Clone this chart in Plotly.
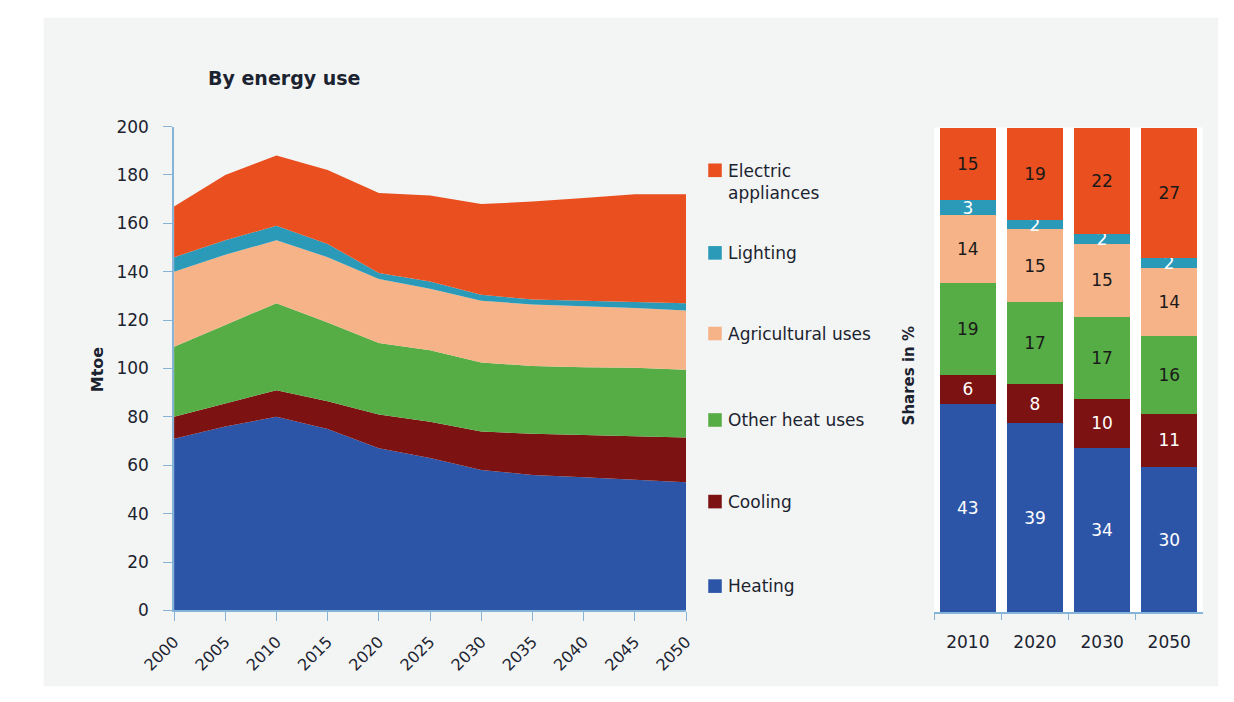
import plotly.graph_objects as go

# ---------------- data ----------------
years = [2000, 2005, 2010, 2015, 2020, 2025, 2030, 2035, 2040, 2045, 2050]
heating = [71, 76, 80, 75, 67, 63, 58, 56, 55, 54, 53]
cooling = [9, 9.5, 11, 11.5, 14, 15, 16, 17, 17.5, 18, 18.5]
other_heat = [29, 32.5, 36, 32.5, 29.5, 29.5, 28.5, 28, 28, 28.3, 28]
agricultural = [31, 29, 26, 27, 26.5, 25.5, 25.5, 25.5, 25.2, 24.7, 24.5]
lighting = [6, 6, 6, 5.5, 2.5, 3, 2.5, 2, 2.3, 2.5, 3]
electric = [21, 27, 29, 30.5, 33, 35.5, 37.5, 40.5, 42.5, 44.5, 45]

share_years = ["2010", "2020", "2030", "2050"]
share_heating = [43, 39, 34, 30]
share_cooling = [6, 8, 10, 11]
share_other_heat = [19, 17, 17, 16]
share_agricultural = [14, 15, 15, 14]
share_lighting = [3, 2, 2, 2]
share_electric = [15, 19, 22, 27]

names = ["Heating", "Cooling", "Other heat uses", "Agricultural uses", "Lighting", "Electric appliances"]
legend_labels = ["Heating", "Cooling", "Other heat uses", "Agricultural uses", "Lighting", "Electric<br>appliances"]
colors = ["#2c55a8", "#7c1212", "#56ad45", "#f6b388", "#2b9ab8", "#e94f1f"]
text_colors = ["white", "white", "#1a1a1a", "#1a1a1a", "white", "#1a1a1a"]

W, H = 1234, 702
FONT = "DejaVu Sans"
TXT = "#1c2330"
AXC = "#86b4d8"


def px(x):
    return x / W


def py(y):
    return 1 - y / H


fig = go.Figure()

area_series = [heating, cooling, other_heat, agricultural, lighting, electric]
for name, vals, col in zip(names, area_series, colors):
    fig.add_trace(go.Scatter(
        x=years, y=vals, name=name, stackgroup="one", mode="none",
        fillcolor=col, line=dict(width=0), showlegend=False,
        xaxis="x", yaxis="y"))

share_series = [share_heating, share_cooling, share_other_heat, share_agricultural, share_lighting, share_electric]
for name, vals, col, tc in zip(names, share_series, colors, text_colors):
    fig.add_trace(go.Bar(
        x=share_years, y=vals, name=name, marker=dict(color=col, line=dict(width=0)),
        text=[str(v) for v in vals], textposition="inside", insidetextanchor="middle",
        textangle=0, textfont=dict(family=FONT, size=17, color=tc), constraintext="none",
        showlegend=False, xaxis="x2", yaxis="y2"))

shapes = [
    dict(type="rect", xref="paper", yref="paper", x0=px(10), x1=px(1226), y0=py(696), y1=py(8),
         fillcolor="#f3f5f4", line=dict(width=0), layer="below"),
    dict(type="rect", xref="paper", yref="paper", x0=px(932), x1=px(1210), y0=py(620), y1=py(121),
         fillcolor="white", line=dict(width=0), layer="below"),
]

annotations = [
    dict(text="<b>By energy use</b>", x=px(178), y=py(70), xref="paper", yref="paper",
         xanchor="left", yanchor="middle", showarrow=False, font=dict(family=FONT, size=19, color=TXT)),
    dict(text="<b>Mtoe</b>", x=px(66), y=py(370), xref="paper", yref="paper", textangle=-90,
         xanchor="center", yanchor="middle", showarrow=False, font=dict(family=FONT, size=16, color=TXT)),
    dict(text="<b>Shares in %</b>", x=px(906), y=py(377), xref="paper", yref="paper", textangle=-90,
         xanchor="center", yanchor="middle", showarrow=False, font=dict(family=FONT, size=15, color=TXT)),
]

legend_y = [593, 506, 422, 333, 250, 165]
text_y = [593, 506, 422, 333, 250, 177.5]
for lab, col, ly, ty in zip(legend_labels, colors, legend_y, text_y):
    shapes.append(dict(type="rect", xref="paper", yref="paper", x0=px(698), x1=px(712),
                       y0=py(ly + 7), y1=py(ly - 7), fillcolor=col, line=dict(width=0)))
    annotations.append(dict(text=lab, x=px(716), y=py(ty), xref="paper", yref="paper",
                            xanchor="left", yanchor="middle", align="left", showarrow=False,
                            font=dict(family=FONT, size=17, color=TXT)))

fig.update_layout(
    width=W, height=H, margin=dict(l=0, r=0, t=0, b=0),
    paper_bgcolor="white", plot_bgcolor="white",
    barmode="stack", bargap=0.17,
    uniformtext=dict(minsize=17, mode="show"),
    shapes=shapes, annotations=annotations,
    xaxis=dict(domain=[px(145), px(675)], range=[2000, 2050], tickvals=years,
               ticktext=[str(y) for y in years], tickangle=-45, ticks="outside", ticklen=9,
               tickcolor=AXC, showline=True, linecolor=AXC, linewidth=1.5, showgrid=False,
               zeroline=False, tickfont=dict(family=FONT, size=16, color=TXT), anchor="y",
               ticklabelstandoff=5),
    yaxis=dict(domain=[py(618), py(120)], range=[0, 200], dtick=20, ticks="outside", ticklen=9,
               tickcolor=AXC, showline=True, linecolor=AXC, linewidth=1.5, showgrid=False,
               zeroline=False, tickfont=dict(family=FONT, size=17, color=TXT), anchor="x",
               ticklabelstandoff=11),
    xaxis2=dict(domain=[px(932), px(1210)], type="category", tickson="boundaries", ticks="outside",
                ticklen=6, tickcolor=AXC, showline=True, linecolor=AXC, linewidth=1.5, showgrid=False,
                tickfont=dict(family=FONT, size=17, color=TXT), anchor="y2", ticklabelstandoff=14),
    yaxis2=dict(domain=[py(620), py(121)], range=[0, 100], showticklabels=False, showline=False,
                showgrid=False, zeroline=False, ticks="", anchor="x2"),
)

fig.write_html("out.html", config={"displayModeBar": False},
               post_script="document.body.style.margin='0';document.body.style.overflow='hidden';")
